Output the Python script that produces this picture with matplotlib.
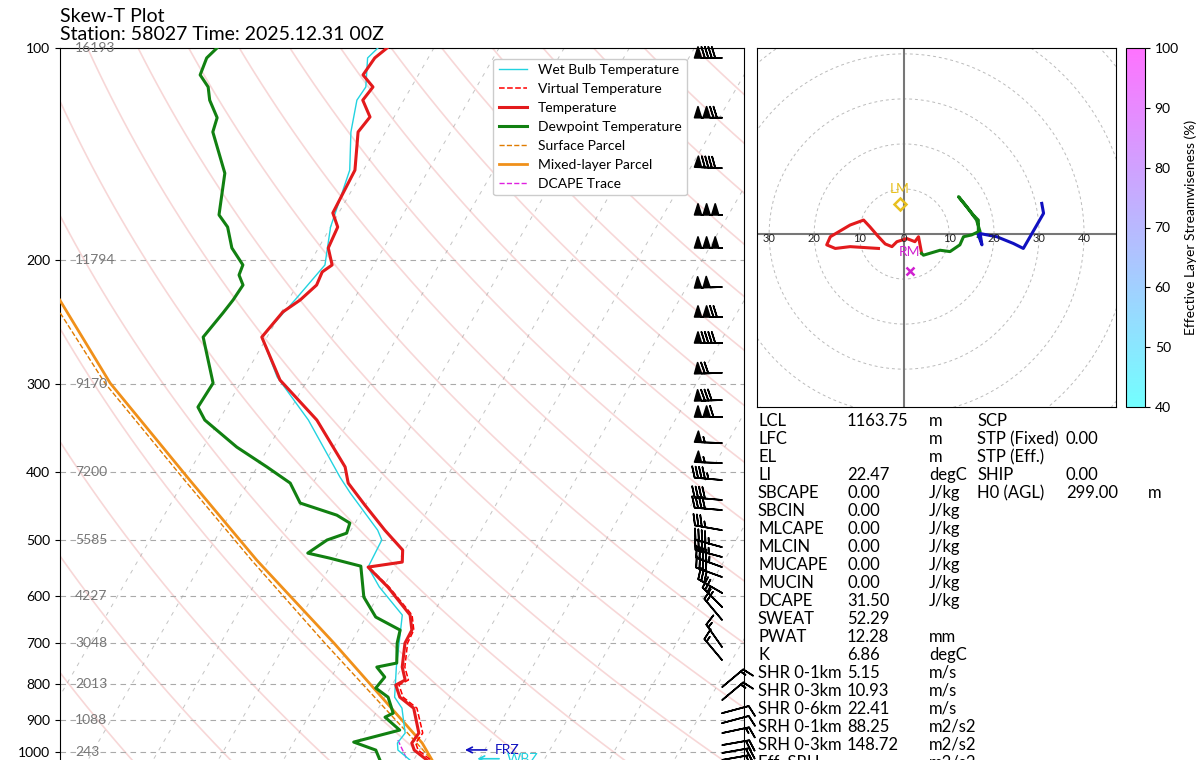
import numpy as np
import matplotlib
matplotlib.use("Agg")
import matplotlib.pyplot as plt
import matplotlib.transforms as mtrans
from matplotlib.colors import Normalize
import matplotlib.cm as cm

plt.rcParams['font.family'] = ['Lato', 'DejaVu Sans']

# ---------------- data ----------------
t_p = [100, 103.3, 109.2, 113.6, 118.6, 125.3, 131.6, 149.1, 171.5, 179.6, 192.3, 203.3, 208.0, 217.1,
       228.0, 237.1, 257.4, 296.2, 337.6, 393.6, 414.9, 445.8, 484.0, 516.5, 537.2, 546.1, 582.9,
       638.8, 671.0, 700.2, 757.3, 790.0, 803.1, 835.6, 866.2, 939.7, 970.9, 993.5, 1026]
t_T = [-57.2, -58.2, -58.5, -55.9, -56.3, -53.7, -54.2, -51.3, -50.9, -48.9, -48.5, -46.4, -47.3, -47.0,
       -48.2, -49.8, -50.8, -44.2, -35.0, -26.5, -24.6, -20.1, -14.8, -10.3, -9.3, -14.1, -9.3,
       -3.4, -1.8, -1.7, 0.0, 1.6, 0.6, 2.3, 5.4, 8.4, 8.2, 9.2, 12.0]

tv_p = [100, 103.3, 109.2, 113.6, 118.6, 125.3, 131.6, 149.1, 171.5, 179.6, 192.3, 203.3, 208.0, 217.1,
        228.0, 237.1, 257.4, 296.2, 337.6, 393.6, 414.9, 445.8, 484.0, 516.5, 537.2, 546.1, 582.9,
        638.8, 671.0, 700.2, 757.3, 790.0, 803.1, 835.6, 866.2, 939.7, 970.9, 993.5, 1026]
tv_T = [-57.2, -58.2, -58.5, -55.9, -56.3, -53.7, -54.2, -51.3, -50.9, -48.9, -48.5, -46.4, -47.3, -47.0,
        -48.2, -49.8, -50.8, -44.2, -35.0, -26.5, -24.6, -20.1, -14.8, -10.3, -9.3, -14.0, -9.1,
        -3.1, -1.5, -1.3, 0.4, 2.1, 1.1, 2.8, 5.9, 9.0, 8.8, 9.8, 12.6]

td_p = [100, 103.3, 109.2, 113.6, 118.6, 125.6, 131.6, 150.6, 172.6, 179.6, 192.3, 203.3, 210.1, 217.1,
        228.0, 237.8, 257.4, 299.2, 323.6, 337.6, 368.8, 393.6, 414.9, 442.9, 460.8, 472.9, 488.7,
        499.8, 521.7, 530.3, 544.4, 602.3, 643.0, 671.0, 700.2, 747.4, 757.3, 782.4, 811.2, 835.6,
        880.5, 892.1, 930.6, 967.8, 993.5, 1026]
td_T = [-83.3, -84.0, -83.5, -81.2, -79.8, -77.1, -76.5, -71.0, -68.2, -65.8, -63.3, -60.1, -59.8, -58.3,
        -58.5, -58.9, -59.8, -54.2, -54.4, -52.2, -44.9, -38.5, -33.5, -30.2, -23.5, -20.8, -20.4,
        -22.8, -24.6, -20.8, -15.3, -12.1, -8.5, -3.6, -2.9, -1.2, -3.9, -1.8, -2.2, 0.5,
        2.7, 1.8, 5.2, -0.8, 3.3, 4.8]

wb_p = [100, 103.3, 113.6, 118.6, 131.6, 149.1, 179.6, 203.3, 228.0, 257.4, 293.3, 337.6, 406.8, 428.6,
        484.0, 499.8, 546.1, 582.9, 638.8, 700.2, 757.3, 835.6, 866.2, 939.7, 970.9, 993.5, 1026]
wb_T = [-58.6, -59.3, -57.0, -57.2, -55.3, -52.1, -50.0, -47.5, -49.0, -50.8, -44.9, -36.3, -26.4, -23.4,
        -15.9, -14.4, -14.1, -10.6, -4.6, -2.6, -0.9, 1.5, 3.6, 6.3, 6.0, 6.7, 9.4]

sb_p = [237.8, 299.2, 410.8, 533.9, 700.2, 930.6, 1026]
sb_T = [-83.9, -70.8, -50.0, -32.6, -14.0, 6.0, 12.8]

ml_p = [228.0, 299.2, 410.8, 533.9, 700.2, 970.9, 1026]
ml_T = [-85.1, -70.0, -49.2, -31.8, -12.6, 9.8, 12.8]

dc_p = [961.5, 1026]
dc_T = [5.8, 9.0]

wind_p = [103.3, 125.6, 148.1, 172.6, 192.3, 218.5, 241.0, 262.4, 289.3, 316.2, 334.3, 364.0, 388.6,
          410.8, 438.5, 453.2, 484.0, 511.6, 528.4, 546.1, 564.2, 594.3, 622.2, 649.3, 709.5, 740.3,
          808.6, 843.7, 880.5, 909.6, 939.7, 977.4, 1003, 1026]
wind_spd = [90, 120, 90, 150, 150, 100, 120, 90, 70, 80, 110, 55, 55,
            45, 40, 40, 35, 45, 45, 45, 40, 30, 25, 20, 15, 15,
            15, 15, 10, 10, 15, 20, 20, 20]
wind_dir = [270, 270, 272, 270, 270, 268, 270, 270, 268, 268, 270, 272, 272,
            275, 275, 275, 280, 285, 285, 290, 290, 300, 315, 320, 325, 320,
            50, 50, 75, 75, 78, 80, 80, 80]

lev_p = [100, 200, 300, 400, 500, 600, 700, 800, 900, 1000]
lev_h = ['16193', '11794', '9170', '7200', '5585', '4227', '3048', '2013', '1088', '243']

hodo_low_u = [-5.7, -12.0, -15.3, -17.2, -16.4, -12.0, -9.0, -7.6, -5.7, -4.2, -2.7, -1.6, 0.6, 2.4, 3.2, 3.9]
hodo_low_v = [-3.2, -2.8, -3.2, -2.4, -0.6, 2.0, 3.1, 1.6, -0.6, -2.2, -2.8, -1.7, -1.0, -1.7, -0.6, -4.3]
hodo_mid_u = [3.9, 4.3, 8.0, 10.2, 12.4, 13.2, 15.0, 16.5, 16.5, 15.4, 12.4, 12.1, 13.9, 16.1, 16.9, 16.5]
hodo_mid_v = [-4.3, -4.7, -3.6, -3.9, -2.4, -0.6, -0.2, 0.5, 3.1, 4.2, 7.9, 8.3, 6.1, 3.1, 0.5, -0.6]
hodo_up_u = [16.5, 17.3, 16.9, 20.6, 24.3, 26.5, 31.0, 30.6]
hodo_up_v = [-0.2, -2.4, 0.1, -0.6, -2.1, -3.2, 4.6, 6.8]
lm_uv = (-1.0, 6.7)
rm_uv = (1.2, -8.1)

stats_left = [("LCL", "1163.75", "m"), ("LFC", "", "m"), ("EL", "", "m"), ("LI", "22.47", "degC"),
              ("SBCAPE", "0.00", "J/kg"), ("SBCIN", "0.00", "J/kg"), ("MLCAPE", "0.00", "J/kg"),
              ("MLCIN", "0.00", "J/kg"), ("MUCAPE", "0.00", "J/kg"), ("MUCIN", "0.00", "J/kg"),
              ("DCAPE", "31.50", "J/kg"), ("SWEAT", "52.29", ""), ("PWAT", "12.28", "mm"),
              ("K", "6.86", "degC"), ("SHR 0-1km", "5.15", "m/s"), ("SHR 0-3km", "10.93", "m/s"),
              ("SHR 0-6km", "22.41", "m/s"), ("SRH 0-1km", "88.25", "m2/s2"),
              ("SRH 0-3km", "148.72", "m2/s2"), ("Eff. SRH", "", "m2/s2")]
stats_right = [("SCP", "", ""), ("STP (Fixed)", "0.00", ""), ("STP (Eff.)", "", ""),
               ("SHIP", "0.00", ""), ("H0 (AGL)", "299.00", "m")]

# ---------------- figure ----------------
W, H = 1200, 760
fig = plt.figure(figsize=(12, 7.6), dpi=100)
SKEW = 62.4


def sx(T, p):
    return np.asarray(T, float) + SKEW * np.log10(1000.0 / np.asarray(p, float))


ax = fig.add_axes([60 / W, 1 - 767 / H, 684 / W, 719 / H])
ax.set_yscale('log')
ax.set_ylim(1050, 100)
ax.set_xlim(-45, 60)
ax.set_yticks(lev_p)
ax.set_yticklabels([str(p) for p in lev_p], fontsize=10)
ax.yaxis.set_minor_locator(matplotlib.ticker.NullLocator())
ax.set_xticks([])

pp = np.logspace(np.log10(100), np.log10(1050), 60)
for th in range(-50, 320, 15):
    T = (th + 273.15) * (pp / 1000.0) ** 0.2857 - 273.15
    ax.plot(sx(T, pp), pp, color='#f0b0b0', lw=1.2, alpha=0.5, zorder=1)
for t0 in range(-50, 70, 10):
    ax.plot(sx(np.full_like(pp, t0), pp), pp, color='#aaaaaa', lw=0.7, ls=(0, (4, 6)), alpha=0.7, zorder=1)
for p in lev_p:
    ax.axhline(p, color='#aaaaaa', lw=0.8, ls=(0, (5, 4)), zorder=1)

ax.plot(sx(wb_T, wb_p), wb_p, color='#22d3e0', lw=1.0, label='Wet Bulb Temperature', zorder=4)
ax.plot(sx(tv_T, tv_p), tv_p, color='red', lw=1.1, ls='--', label='Virtual Temperature', zorder=4)
ax.plot(sx(t_T, t_p), t_p, color='#e31a1c', lw=2.2, label='Temperature', zorder=5)
ax.plot(sx(td_T, td_p), td_p, color='#118011', lw=2.2, label='Dewpoint Temperature', zorder=5)
ax.plot(sx(sb_T, sb_p), sb_p, color='#e07b00', lw=1.0, ls='--', label='Surface Parcel', zorder=3)
ax.plot(sx(ml_T, ml_p), ml_p, color='#f0901a', lw=2.0, label='Mixed-layer Parcel', zorder=3)
ax.plot(sx(dc_T, dc_p), dc_p, color='#e020e0', lw=1.0, ls='--', label='DCAPE Trace', zorder=3)

leg = ax.legend(loc='upper right', bbox_to_anchor=(0.927, 0.995), fontsize=10, framealpha=1,
                edgecolor='#cccccc')

bt = mtrans.blended_transform_factory(ax.transAxes, ax.transData)
for p, h in zip(lev_p, lev_h):
    ax.text(0.022, p, h, transform=bt, fontsize=10, color='#777777', va='center', ha='left')

ax.annotate('', xy=(0.588, 993), xytext=(0.628, 993), xycoords=bt,
            arrowprops=dict(arrowstyle='->', color='#1010c0', lw=1.2))
ax.text(0.635, 993, 'FRZ', transform=bt, color='#1010c0', fontsize=10, va='center')
ax.annotate('', xy=(0.606, 1022), xytext=(0.646, 1022), xycoords=bt,
            arrowprops=dict(arrowstyle='->', color='#22d3e0', lw=1.2))
ax.text(0.653, 1022, 'WBZ', transform=bt, color='#22d3e0', fontsize=10, va='center')

wd = np.deg2rad(wind_dir)
spd = np.array(wind_spd, float)
u = -spd * np.sin(wd)
v = -spd * np.cos(wd)
ax.barbs(np.full(len(wind_p), 0.968), wind_p, u, v, transform=bt, length=6.3, lw=1.2,
         color='black', clip_on=False, zorder=6)

ax.set_title('Skew-T Plot\nStation: 58027 Time: 2025.12.31 00Z', loc='left', fontsize=14, pad=6,
             linespacing=1.05)

# ---------------- hodograph ----------------
hx = fig.add_axes([757 / W, 1 - 407 / H, 359 / W, 359 / H])
hx.set_xlim(-32.7, 47.1)
hx.set_ylim(-38.4, 41.3)
hx.set_xticks([])
hx.set_yticks([])
th = np.linspace(0, 2 * np.pi, 200)
for r in range(10, 70, 10):
    hx.plot(r * np.cos(th), r * np.sin(th), color='#bbbbbb', lw=0.7, ls=(0, (3, 3)))
hx.axhline(0, color='#777777', lw=1.5)
hx.axvline(0, color='#777777', lw=1.5)
for r in [-30, -20, -10, 0, 10, 20, 30, 40]:
    hx.text(r, -1.0, str(abs(r)), fontsize=8, ha='center', va='center', color='#222222')
hx.plot(hodo_low_u, hodo_low_v, color='#e31a1c', lw=2.2)
hx.plot(hodo_mid_u, hodo_mid_v, color='#118011', lw=2.2)
hx.plot(hodo_up_u, hodo_up_v, color='#1010c0', lw=2.2)
hx.plot(*lm_uv, marker='D', mfc='none', mec='#e8c020', mew=1.8, ms=6)
hx.text(lm_uv[0], lm_uv[1] + 3.2, 'LM', color='#e8c020', fontsize=10, ha='center', va='center')
hx.plot(*rm_uv, marker='x', color='#d020d0', mew=1.8, ms=6)
hx.text(rm_uv[0], rm_uv[1] + 4.2, 'RM', color='#d020d0', fontsize=10, ha='center', va='center')

cax = fig.add_axes([1126 / W, 1 - 407 / H, 19 / W, 359 / H])
sm = cm.ScalarMappable(norm=Normalize(40, 100), cmap='cool')
cb = fig.colorbar(sm, cax=cax, alpha=0.55)
cb.set_ticks([40, 50, 60, 70, 80, 90, 100])
cb.ax.tick_params(labelsize=10)
cb.set_label('Effective Layer Streamwiseness (%)', fontsize=10)

for i, (a, b, c) in enumerate(stats_left):
    y = 1 - (421 + 18 * i) / H
    fig.text(758 / W, y, a, fontsize=12, va='center')
    fig.text(847 / W, y, b, fontsize=12, va='center')
    fig.text(929 / W, y, c, fontsize=12, va='center')
for i, (a, b, c) in enumerate(stats_right):
    y = 1 - (421 + 18 * i) / H
    fig.text(977 / W, y, a, fontsize=12, va='center')
    fig.text(1066 / W, y, b, fontsize=12, va='center')
    fig.text(1148 / W, y, c, fontsize=12, va='center')

fig.savefig('out.png', dpi=100)
